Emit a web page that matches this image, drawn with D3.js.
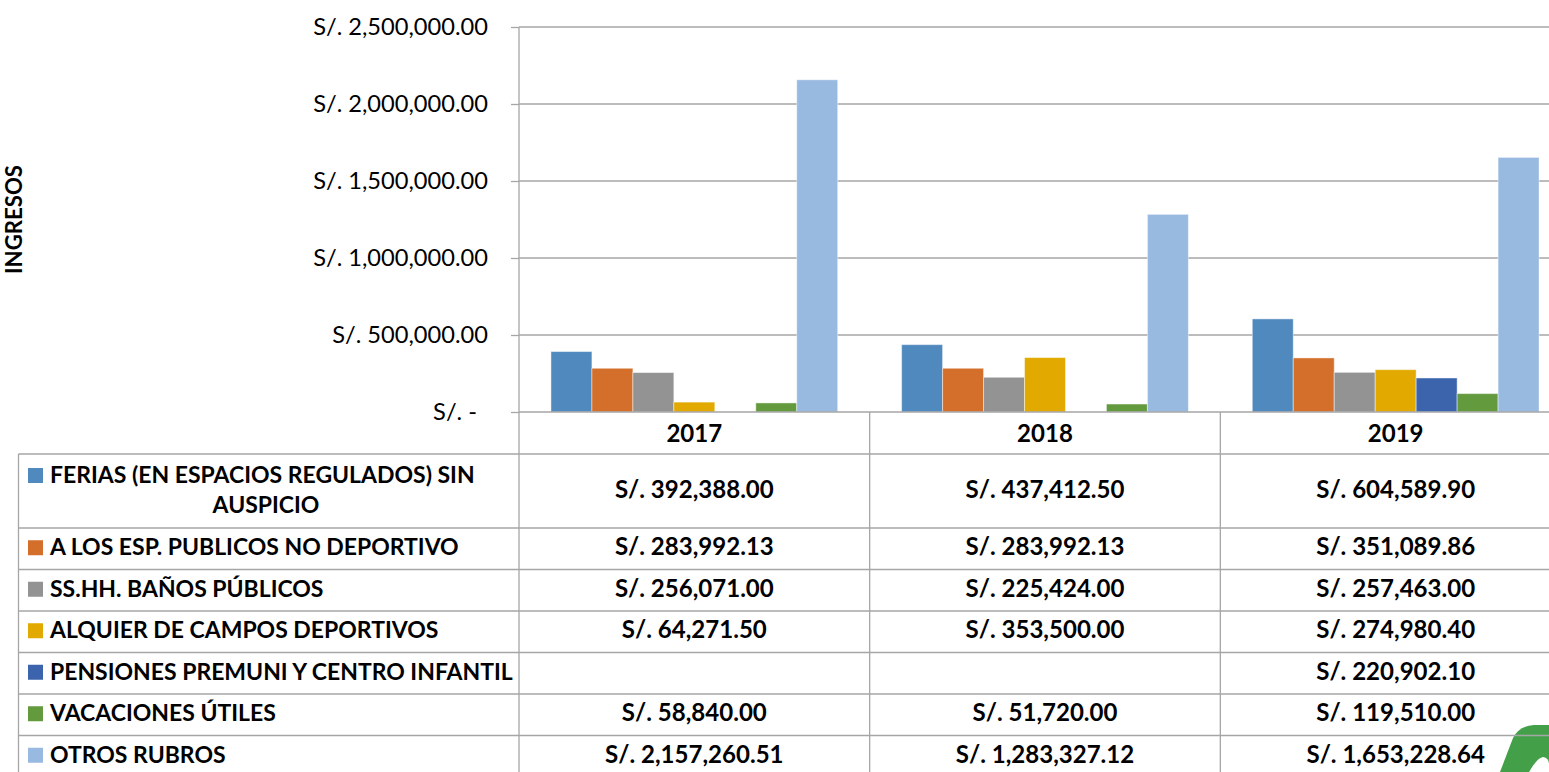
<!DOCTYPE html>
<html>
<head>
<meta charset="utf-8">
<script src="https://cdn.jsdelivr.net/npm/d3@7"></script>
<style>
  body { margin: 0; background: #fff; }
  text { font-family: Lato, "Open Sans", sans-serif; fill: #000; }
</style>
</head>
<body>
<div id="chart"></div>
<script>
// data
var years = ["2017", "2018", "2019"];
var seriesNames = [
  "FERIAS (EN ESPACIOS REGULADOS) SIN AUSPICIO",
  "A LOS ESP. PUBLICOS NO DEPORTIVO",
  "SS.HH. BAÑOS PÚBLICOS",
  "ALQUIER DE CAMPOS DEPORTIVOS",
  "PENSIONES PREMUNI Y CENTRO INFANTIL",
  "VACACIONES ÚTILES",
  "OTROS RUBROS"
];
var feriasVals = [392388.00, 437412.50, 604589.90];
var publicosVals = [283992.13, 283992.13, 351089.86];
var banosVals = [256071.00, 225424.00, 257463.00];
var camposVals = [64271.50, 353500.00, 274980.40];
var pensionesVals = [null, null, 220902.10];
var vacacionesVals = [58840.00, 51720.00, 119510.00];
var otrosVals = [2157260.51, 1283327.12, 1653228.64];
var yTicks = [0, 500000, 1000000, 1500000, 2000000, 2500000];

var seriesValues = [feriasVals, publicosVals, banosVals, camposVals, pensionesVals, vacacionesVals, otrosVals];
var seriesColors = ["#4f89bd", "#d36e2b", "#939393", "#e2aa00", "#3b64ad", "#639a3e", "#98b9e0"];

var width = 1549;
var height = 772;
var plotLeft = 519;
var plotRight = 1571;
var plotTop = 27;
var baseY = 412;
var tableTop = 454;
var firstRowH = 74;
var rowH = 41.5;
var lineColor = "#a6a6a6";

var svg = d3
  .select("#chart")
  .append("svg")
  .attr("width", width)
  .attr("height", height);

// font size that makes a string a given width
function fitSize(str, weight, target) {
  var t = svg.append("text").attr("font-size", 20).attr("font-weight", weight).text(str);
  var w = t.node().getComputedTextLength();
  t.remove();
  return 20 * target / w;
}
var tickSize = fitSize("S/. 2,500,000.00", "normal", 175);
var valueSize = fitSize("S/. 392,388.00", "bold", 159);
var legendSize = fitSize("PENSIONES PREMUNI Y CENTRO INFANTIL", "bold", 463);
var titleSize = fitSize("INGRESOS", "bold", 109);

var fmt = d3.format(",.2f");

// scales
var x = d3.scaleBand().domain(years).range([plotLeft, plotRight]).paddingInner(0).paddingOuter(0);
var x1 = d3.scaleBand().domain(d3.range(seriesNames.length)).range([0, x.bandwidth()])
  .paddingInner(0).paddingOuter(0.78);
var y = d3.scaleLinear().domain([0, 2500000]).range([baseY, plotTop]);

// logo corner (behind the table lines)
svg.append("path")
  .attr("d", "M1500,772 L1513,738 Q1519,726 1534,725 L1549,725 L1549,772 Z")
  .attr("fill", "#43a048");
svg.append("path")
  .attr("d", "M1529,772 Q1537,758 1543,757 Q1549,758 1549,764 L1549,772 Z")
  .attr("fill", "#fff");

// gridlines
svg.append("g")
  .selectAll("line")
  .data(yTicks.filter(function(d) { return d > 0; }))
  .enter()
  .append("line")
  .attr("x1", plotLeft)
  .attr("x2", width)
  .attr("y1", function(d) { return y(d); })
  .attr("y2", function(d) { return y(d); })
  .attr("stroke", lineColor)
  .attr("stroke-width", 1.3);

// bars
var groups = svg.append("g")
  .selectAll("g")
  .data(years)
  .enter()
  .append("g")
  .attr("transform", function(d) { return "translate(" + x(d) + ",0)"; });

groups.selectAll("rect")
  .data(function(d, i) {
    return seriesValues.map(function(vals, s) { return { s: s, v: vals[i] }; })
      .filter(function(e) { return e.v != null; });
  })
  .enter()
  .append("rect")
  .attr("x", function(d) { return x1(d.s); })
  .attr("width", x1.bandwidth())
  .attr("y", function(d) { return y(d.v); })
  .attr("height", function(d) { return baseY - y(d.v); })
  .attr("fill", function(d) { return seriesColors[d.s]; })
  .attr("stroke", "#fff")
  .attr("stroke-opacity", 0.45)
  .attr("stroke-width", 1);

// y axis
var yAxis = d3.axisLeft(y)
  .tickValues(yTicks)
  .tickSize(8)
  .tickPadding(23)
  .tickFormat(function(d) { return d === 0 ? "S/. -" : "S/. " + fmt(d); });

var yG = svg.append("g")
  .attr("transform", "translate(" + plotLeft + ",0)")
  .call(yAxis);
yG.select(".domain").remove();
yG.selectAll("line").attr("stroke", lineColor).attr("stroke-width", 1.3);
yG.selectAll("text")
  .attr("font-size", tickSize)
  .attr("font-family", null)
  .attr("fill", "#000")
  .attr("dy", "0.3em")
  .attr("dx", function(d) { return d === 0 ? -11 : 0; });

// axis title
svg.append("text")
  .attr("transform", "translate(22," + ((plotTop + baseY) / 2) + ")rotate(-90)")
  .attr("text-anchor", "middle")
  .attr("font-weight", "bold")
  .attr("font-size", titleSize)
  .text("INGRESOS");

// data table
var rowTops = seriesNames.map(function(d, i) {
  return i === 0 ? tableTop : tableTop + firstRowH + (i - 1) * rowH;
});
var tableBottom = rowTops[rowTops.length - 1] + rowH;
var table = svg.append("g");

// baseline across the plot
table.append("line")
  .attr("x1", plotLeft).attr("x2", width)
  .attr("y1", baseY).attr("y2", baseY)
  .attr("stroke", lineColor).attr("stroke-width", 1.6);

// horizontal rules
table.selectAll(".hrule")
  .data(rowTops)
  .enter()
  .append("line")
  .attr("x1", 18.5).attr("x2", width)
  .attr("y1", function(d) { return d; })
  .attr("y2", function(d) { return d; })
  .attr("stroke", lineColor).attr("stroke-width", 1.3);

// vertical rules
table.append("line")
  .attr("x1", plotLeft).attr("x2", plotLeft)
  .attr("y1", plotTop).attr("y2", tableBottom)
  .attr("stroke", lineColor).attr("stroke-width", 1.3);
table.append("line")
  .attr("x1", 18.5).attr("x2", 18.5)
  .attr("y1", tableTop).attr("y2", tableBottom)
  .attr("stroke", lineColor).attr("stroke-width", 1.3);
table.selectAll(".vrule")
  .data(years.slice(1))
  .enter()
  .append("line")
  .attr("x1", function(d) { return x(d); })
  .attr("x2", function(d) { return x(d); })
  .attr("y1", baseY).attr("y2", tableBottom)
  .attr("stroke", lineColor).attr("stroke-width", 1.3);

// year labels
table.selectAll(".year")
  .data(years)
  .enter()
  .append("text")
  .attr("x", function(d) { return x(d) + x.bandwidth() / 2; })
  .attr("y", 441.5)
  .attr("text-anchor", "middle")
  .attr("font-weight", "bold")
  .attr("font-size", valueSize)
  .text(function(d) { return d; });

// legend keys and labels
seriesNames.forEach(function(name, i) {
  var top = rowTops[i];
  var h = i === 0 ? firstRowH : rowH;
  var base = i === 0 ? top + 29 : top + h / 2 + 6.5;
  table.append("rect")
    .attr("x", 28).attr("y", base - 15)
    .attr("width", 15).attr("height", 15)
    .attr("fill", seriesColors[i]);
  if (i === 0) {
    table.append("text")
      .attr("x", 50).attr("y", base)
      .attr("font-weight", "bold").attr("font-size", legendSize)
      .text("FERIAS (EN ESPACIOS REGULADOS) SIN");
    table.append("text")
      .attr("x", 266).attr("y", base + 30)
      .attr("text-anchor", "middle")
      .attr("font-weight", "bold").attr("font-size", legendSize)
      .text("AUSPICIO");
  } else {
    table.append("text")
      .attr("x", 50).attr("y", base)
      .attr("font-weight", "bold").attr("font-size", legendSize)
      .text(name);
  }
  // values
  years.forEach(function(yr, j) {
    var v = seriesValues[i][j];
    if (v == null) return;
    table.append("text")
      .attr("x", x(yr) + x.bandwidth() / 2)
      .attr("y", top + h / 2 + 6.5)
      .attr("text-anchor", "middle")
      .attr("font-weight", "bold")
      .attr("font-size", valueSize)
      .text("S/. " + fmt(v));
  });
});
</script>
</body>
</html>
